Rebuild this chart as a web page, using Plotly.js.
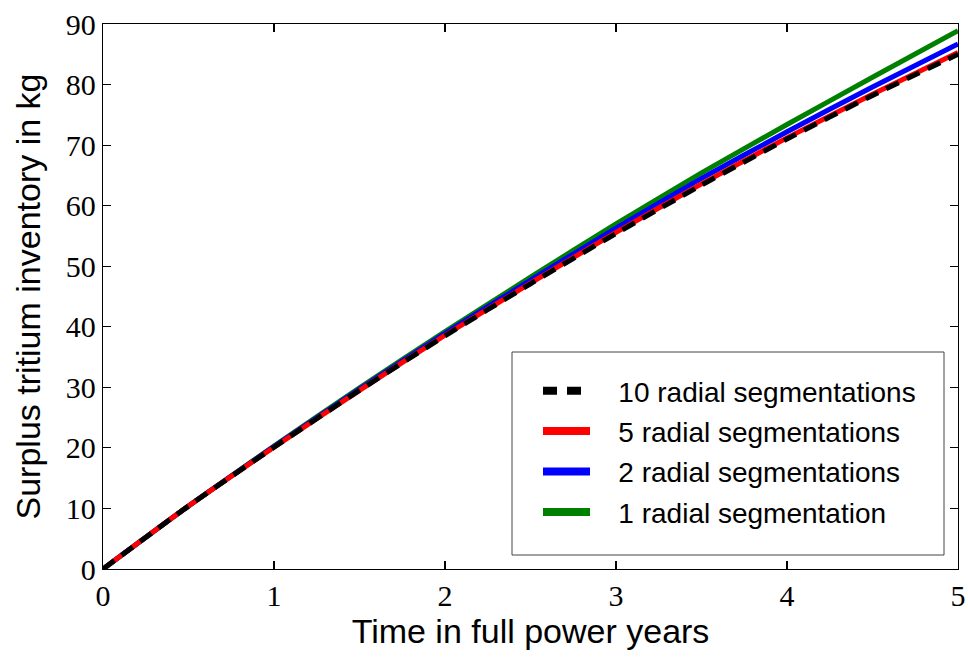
<!DOCTYPE html>
<html>
<head>
<meta charset="utf-8">
<script src="https://cdn.plot.ly/plotly-3.0.1.min.js"></script>
<style>html,body{margin:0;padding:0;background:#fff;}#chart{width:968px;height:657px;}</style>
</head>
<body>
<div id="chart"></div>
<script>
const years = [0, 0.5, 1, 1.5, 2, 2.5, 3, 3.5, 4, 4.5, 5];
const seg10 = [0, 10.4, 20.1, 29.5, 38.5, 47.1, 55.4, 63.4, 71.0, 78.2, 85.0];
const seg5  = [0, 10.4, 20.1, 29.5, 38.6, 47.2, 55.6, 63.6, 71.2, 78.4, 85.3];
const seg2  = [0, 10.4, 20.2, 29.7, 38.9, 47.7, 56.3, 64.5, 72.2, 79.6, 86.7];
const seg1  = [0, 10.4, 20.3, 29.9, 39.2, 48.2, 57.0, 65.4, 73.4, 81.2, 88.9];
const names = ["10 radial segmentations", "5 radial segmentations", "2 radial segmentations", "1 radial segmentation"];
const colors = ["#000000", "#ff0000", "#0000ff", "#008000"];
const series = [seg10, seg5, seg2, seg1];
const xTicks = [0, 1, 2, 3, 4, 5];
const yTicks = [0, 10, 20, 30, 40, 50, 60, 70, 80, 90];

const DASH = "14px,9px";
const traces = [];
// data lines (drawn green first so black dashed is on top)
for (let i = series.length - 1; i >= 0; i--) {
  traces.push({
    type: "scatter", mode: "lines", x: years, y: series[i], name: names[i],
    showlegend: false, hoverinfo: "skip",
    line: {color: colors[i], width: 5, shape: "spline", smoothing: 0.6, dash: i === 0 ? DASH : "solid"}
  });
}
// legend entries (thicker sample lines)
for (let i = 0; i < series.length; i++) {
  traces.push({
    type: "scatter", mode: "lines", x: [null], y: [null],
    name: "\u00a0\u00a0\u00a0" + names[i], legendgroup: "g" + i, legendrank: i + 1,
    line: {color: colors[i], width: 8, dash: i === 0 ? "14px,10px" : "solid"}
  });
}

const axisCommon = {
  showline: true, mirror: "ticks", linecolor: "#000", linewidth: 1.2,
  ticks: "inside", ticklen: 8, tickwidth: 1.2, tickcolor: "#000",
  showgrid: false, zeroline: false,
  tickfont: {family: "Liberation Serif, serif", size: 30, color: "#000"}
};

const layout = {
  width: 968, height: 657,
  margin: {l: 103, r: 10, t: 24, b: 88},
  paper_bgcolor: "#fff", plot_bgcolor: "#fff",
  showlegend: true,
  xaxis: Object.assign({}, axisCommon, {
    range: [0, 5], tickvals: xTicks, ticktext: xTicks.map(String),
    title: {text: "Time in full power years", font: {family: "Liberation Sans, Arial, sans-serif", size: 34, color: "#000"}, standoff: 2}
  }),
  yaxis: Object.assign({}, axisCommon, {
    range: [0, 90], tickvals: yTicks, ticktext: yTicks.map(String),
    title: {text: "Surplus tritium inventory in kg", font: {family: "Liberation Sans, Arial, sans-serif", size: 34, color: "#000"}, standoff: 14}
  }),
  legend: {
    x: (538 - 103) / 855, y: (569 - 366) / 545, xanchor: "left", yanchor: "top",
    bgcolor: "rgba(0,0,0,0)", borderwidth: 0,
    font: {family: "Liberation Sans, Arial, sans-serif", size: 28, color: "#000"},
    itemwidth: 47, tracegroupgap: 1, traceorder: "grouped"
  },
  shapes: [{
    type: "rect", xref: "paper", yref: "paper",
    x0: (512 - 103) / 855, x1: (944 - 103) / 855,
    y0: (569 - 555) / 545, y1: (569 - 352) / 545,
    line: {color: "#444", width: 1}, fillcolor: "rgba(255,255,255,1)", layer: "below"
  }]
};

Plotly.newPlot("chart", traces, layout, {staticPlot: true, displayModeBar: false});
</script>
</body>
</html>
